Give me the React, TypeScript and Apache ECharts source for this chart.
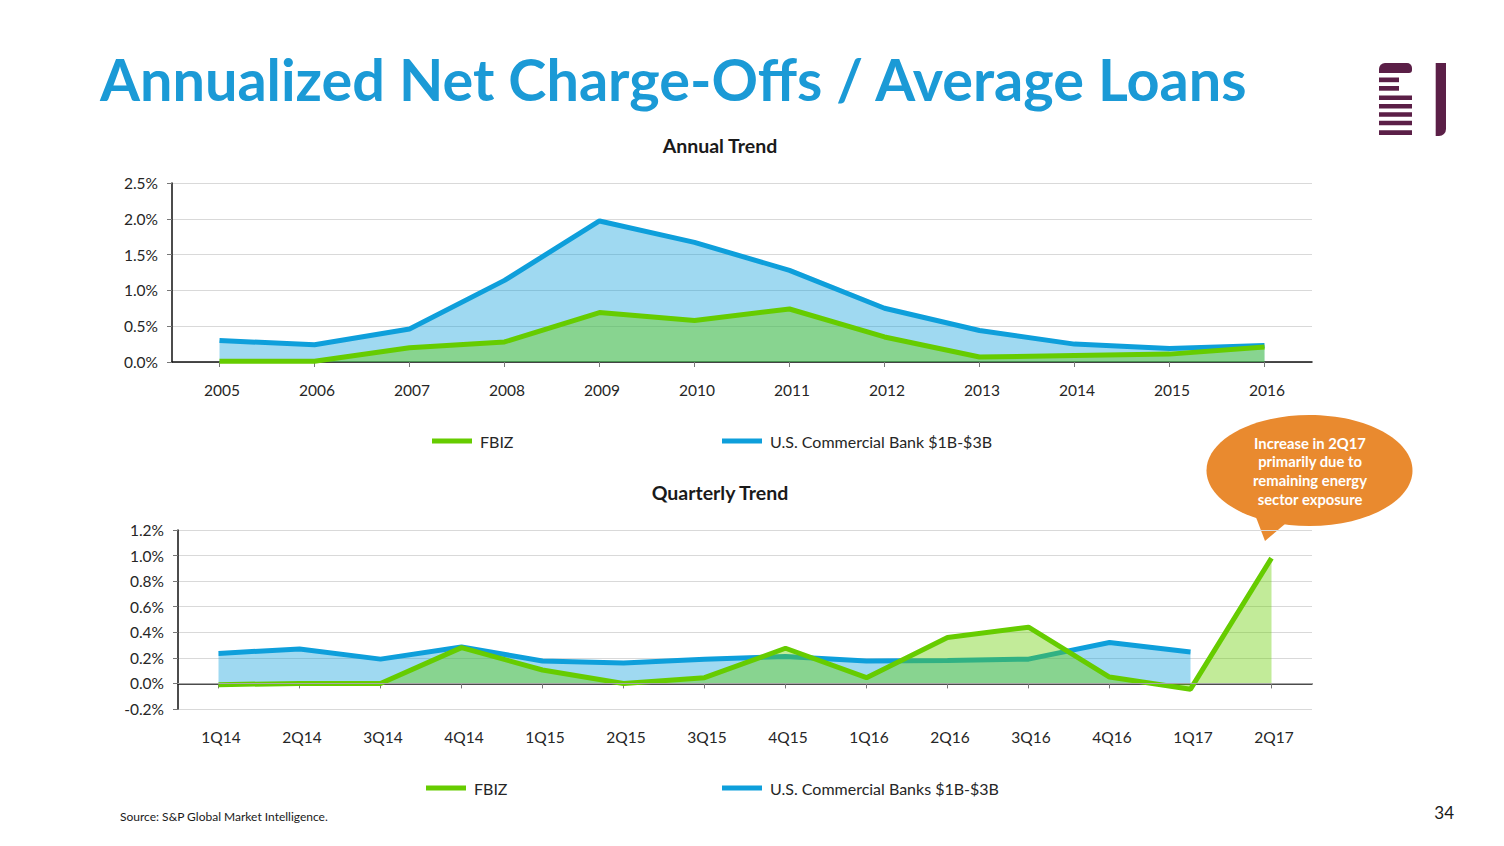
import React, { useEffect, useRef } from "react";
import * as echarts from "echarts";

const years = ["2005", "2006", "2007", "2008", "2009", "2010", "2011", "2012", "2013", "2014", "2015", "2016"];
const annualFBIZ = [0.01, 0.01, 0.2, 0.28, 0.69, 0.58, 0.74, 0.35, 0.07, 0.09, 0.11, 0.21];
const annualPeers = [0.3, 0.24, 0.46, 1.14, 1.97, 1.67, 1.28, 0.75, 0.44, 0.25, 0.19, 0.23];

const quarters = ["1Q14", "2Q14", "3Q14", "4Q14", "1Q15", "2Q15", "3Q15", "4Q15", "1Q16", "2Q16", "3Q16", "4Q16", "1Q17", "2Q17"];
const quarterlyFBIZ = [-0.01, 0.0, 0.0, 0.28, 0.105, 0.0, 0.045, 0.275, 0.045, 0.36, 0.44, 0.05, -0.045, 0.98];
const quarterlyPeers: (number | string)[] = [0.235, 0.27, 0.19, 0.285, 0.175, 0.16, 0.19, 0.21, 0.175, 0.18, 0.19, 0.32, 0.245, "-"];

const annualTicks = [0, 0.5, 1.0, 1.5, 2.0, 2.5];
const quarterlyTicks = [-0.2, 0, 0.2, 0.4, 0.6, 0.8, 1.0, 1.2];

const TITLE = "Annualized Net Charge-Offs / Average Loans";
const CALLOUT_LINES = ["Increase in 2Q17", "primarily due to", "remaining energy", "sector exposure"];

const GREEN = "#66CC00";
const BLUE = "#0E9FDB";
const FONT = "Lato";
const TXT = "#262626";

const pct = (v: number) => (Math.abs(v) < 1e-9 ? 0 : v).toFixed(1) + "%";

export default function App() {
  const ref = useRef<HTMLDivElement>(null);
  useEffect(() => {
    if (!ref.current) return;
    const chart = echarts.init(ref.current, null, { renderer: "svg" });

    const xAxisCommon = (data: string[], gridIndex: number) => ({
      type: "category",
      gridIndex,
      data,
      boundaryGap: true,
      axisLine: { show: true, lineStyle: { color: "#111", width: 1.5 } },
      axisTick: { show: true, alignWithLabel: true, length: 5, lineStyle: { color: "#777" } },
      axisLabel: { margin: 20, color: TXT, fontSize: 15.5, fontFamily: FONT, padding: [0, 0, 0, 5] },
      splitLine: { show: false },
    });

    const yAxisCommon = (gridIndex: number, min: number, max: number) => ({
      type: "value",
      gridIndex,
      min,
      max,
      interval: gridIndex === 0 ? annualTicks[1] - annualTicks[0] : quarterlyTicks[1] - quarterlyTicks[0],
      axisLine: { show: true, lineStyle: { color: "#111", width: 1.5 } },
      axisTick: { show: true, length: 5, lineStyle: { color: "#777" } },
      axisLabel: { margin: 14, color: TXT, fontSize: 15.5, fontFamily: FONT, formatter: pct },
      splitLine: { show: true, lineStyle: { color: "#D9D9D9", width: 1 } },
    });

    const lineSeries = (name: string, data: any[], color: string, idx: number, extra: any = {}) => ({
      name,
      type: "line",
      xAxisIndex: idx,
      yAxisIndex: idx,
      data,
      symbol: "none",
      lineStyle: { color, width: 5 },
      itemStyle: { color },
      areaStyle: { color, opacity: 0.4 },
      z: 2,
      ...extra,
    });

    const logoColor = "#5B1F47";
    const logo: any[] = [
      { type: "rect", shape: { x: 1379, y: 63, width: 33, height: 10, r: [6, 5, 3, 0] }, style: { fill: logoColor } },
      { type: "rect", shape: { x: 1379, y: 77.5, width: 20, height: 4.7 }, style: { fill: logoColor } },
      { type: "rect", shape: { x: 1379, y: 86, width: 20, height: 4.7 }, style: { fill: logoColor } },
      { type: "rect", shape: { x: 1379, y: 95.5, width: 33, height: 4.5 }, style: { fill: logoColor } },
      { type: "rect", shape: { x: 1379, y: 104, width: 33, height: 4.5 }, style: { fill: logoColor } },
      { type: "rect", shape: { x: 1379, y: 112.3, width: 33, height: 4.5 }, style: { fill: logoColor } },
      { type: "rect", shape: { x: 1379, y: 120.7, width: 33, height: 4.5 }, style: { fill: logoColor } },
      { type: "rect", shape: { x: 1379, y: 130.3, width: 33, height: 4.7 }, style: { fill: logoColor } },
      { type: "rect", shape: { x: 1435.7, y: 63, width: 10.3, height: 73, r: [0, 0, 7, 0] }, style: { fill: logoColor } },
    ];

    const callout: any[] = [
      { type: "polygon", shape: { points: [[1254, 512], [1292, 518], [1265, 541]] }, style: { fill: "#E98A2F" } },
      { type: "ellipse", shape: { cx: 1309.5, cy: 470.5, rx: 103, ry: 55.5 }, style: { fill: "#E98A2F" } },
      ...CALLOUT_LINES.map((t, i) => ({
        type: "text",
        x: 1310,
        y: 442.5 + i * 18.8,
        style: {
          text: t,
          fill: "#FFFFFF",
          font: `bold 14.8px ${FONT}`,
          textAlign: "center",
          textVerticalAlign: "middle",
        },
      })),
    ];

    const legendBase = {
      icon: "rect",
      itemWidth: 40,
      itemHeight: 5,
      itemGap: 8,
      textStyle: { color: TXT, fontSize: 16, fontFamily: FONT, padding: [0, 0, 0, 3] },
    };

    chart.setOption({
      animation: false,
      backgroundColor: "#FFFFFF",
      grid: [
        { left: 172, right: 192, top: 183, height: 179, containLabel: false },
        { left: 178, right: 192, top: 530, height: 179, containLabel: false },
      ],
      xAxis: [xAxisCommon(years, 0), xAxisCommon(quarters, 1)],
      yAxis: [yAxisCommon(0, annualTicks[0], annualTicks[annualTicks.length - 1]), yAxisCommon(1, quarterlyTicks[0], quarterlyTicks[quarterlyTicks.length - 1])],
      legend: [
        { ...legendBase, data: ["FBIZ"], left: 427, top: 428 },
        { ...legendBase, data: ["U.S. Commercial Bank $1B-$3B"], left: 717, top: 428 },
        { ...legendBase, data: ["FBIZ "], left: 421, top: 775 },
        { ...legendBase, data: ["U.S. Commercial Banks $1B-$3B"], left: 717, top: 775 },
      ],
      series: [
        lineSeries("U.S. Commercial Bank $1B-$3B", annualPeers, BLUE, 0),
        lineSeries("FBIZ", annualFBIZ, GREEN, 0, { z: 3 }),
        lineSeries("U.S. Commercial Banks $1B-$3B", quarterlyPeers, BLUE, 1, {
          markLine: {
            silent: true,
            symbol: "none",
            label: { show: false },
            lineStyle: { color: "#A6A6A6", width: 1, type: "solid" },
            data: [{ yAxis: 0 }],
          },
        }),
        lineSeries("FBIZ ", quarterlyFBIZ, GREEN, 1, { z: 3 }),
      ],
      graphic: [
        {
          type: "text",
          x: 100,
          y: 78,
          style: { text: TITLE, fill: "#1B9AD6", font: `bold 57.6px ${FONT}`, textVerticalAlign: "middle" },
        },
        {
          type: "text",
          x: 720,
          y: 145,
          style: { text: "Annual Trend", fill: "#1A1A1A", font: `bold 19.5px ${FONT}`, textAlign: "center", textVerticalAlign: "middle" },
        },
        {
          type: "text",
          x: 720,
          y: 492,
          style: { text: "Quarterly Trend", fill: "#1A1A1A", font: `bold 19.5px ${FONT}`, textAlign: "center", textVerticalAlign: "middle" },
        },
        {
          type: "text",
          x: 120,
          y: 816,
          style: { text: "Source: S&P Global Market Intelligence.", fill: "#1A1A1A", font: `12px ${FONT}`, textVerticalAlign: "middle" },
        },
        {
          type: "text",
          x: 1454,
          y: 812,
          style: { text: "34", fill: "#1A1A1A", font: `17px ${FONT}`, textAlign: "right", textVerticalAlign: "middle" },
        },
        ...logo,
        ...callout,
      ],
    });
    return () => chart.dispose();
  }, []);
  return <div ref={ref} style={{ position: "fixed", left: 0, top: 0, width: 1504, height: 846, background: "#fff" }} />;
}
